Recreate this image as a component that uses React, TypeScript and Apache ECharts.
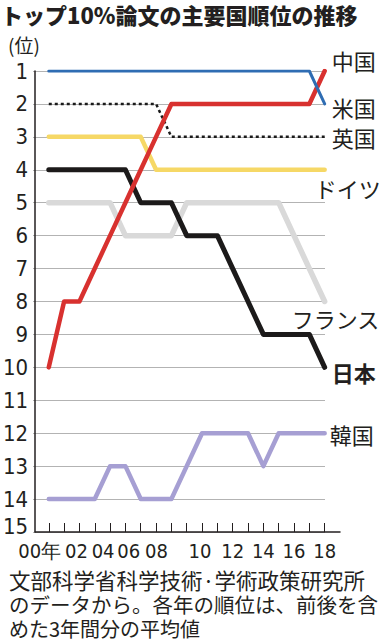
import React, { useEffect, useRef } from "react";
import * as echarts from "echarts";

const years = [2000, 2001, 2002, 2003, 2004, 2005, 2006, 2007, 2008, 2009, 2010, 2011, 2012, 2013, 2014, 2015, 2016, 2017, 2018];
const rankTicks = [1, 2, 3, 4, 5, 6, 7, 8, 9, 10, 11, 12, 13, 14, 15];
const labelYears = [2000, 2002, 2004, 2006, 2008, 2010, 2012, 2014, 2016, 2018];

const china = [10, 8, 8, 7, 6, 5, 4, 3, 2, 2, 2, 2, 2, 2, 2, 2, 2, 2, 1];
const usa = [1, 1, 1, 1, 1, 1, 1, 1, 1, 1, 1, 1, 1, 1, 1, 1, 1, 1, 2];
const uk = [2, 2, 2, 2, 2, 2, 2, 2, 3, 3, 3, 3, 3, 3, 3, 3, 3, 3, 3];
const germany = [3, 3, 3, 3, 3, 3, 3, 4, 4, 4, 4, 4, 4, 4, 4, 4, 4, 4, 4];
const japan = [4, 4, 4, 4, 4, 4, 5, 5, 5, 6, 6, 6, 7, 8, 9, 9, 9, 9, 10];
const france = [5, 5, 5, 5, 5, 6, 6, 6, 6, 5, 5, 5, 5, 5, 5, 5, 6, 7, 8];
const korea = [14, 14, 14, 14, 13, 13, 14, 14, 14, 13, 12, 12, 12, 12, 13, 12, 12, 12, 12];

const titleText = "トップ10%論文の主要国順位の推移";
const unitText = "(位)";
const noteLines = ["文部科学省科学技術·学術政策研究所", "のデータから。各年の順位は、前後を含", "めた3年間分の平均値"];

const CJK = '"Noto Sans CJK JP", sans-serif';
const NUM = '"Liberation Sans Narrow", "DejaVu Sans Condensed", "Liberation Sans", sans-serif';
const INK = "#231f20";

// horizontal nudges (px, negative = left) for the year labels, as laid out in the original
const labelShift: Record<number, number> = { 2000: -9, 2002: -3, 2004: -7, 2006: -12, 2008: -15, 2010: -2 };

export default function App() {
  const ref = useRef<HTMLDivElement>(null);
  useEffect(() => {
    if (!ref.current) return;
    const chart = echarts.init(ref.current, null, { renderer: "svg" });
    const pts = (arr: number[]) => years.map((y, i) => [y, arr[i]]);
    const mk = (
      name: string,
      arr: number[],
      color: string,
      width: number,
      off: [number, number],
      extra: any = {},
      labelExtra: any = {}
    ) => ({
      type: "line",
      name,
      xAxisIndex: 1,
      yAxisIndex: 1,
      data: pts(arr),
      symbol: "none",
      silent: true,
      lineStyle: { color, width, cap: "round", join: "round", ...extra },
      endLabel: {
        show: true,
        formatter: name,
        distance: 0,
        offset: off,
        align: "left",
        verticalAlign: "middle",
        color: INK,
        fontSize: 22,
        fontFamily: CJK,
        ...labelExtra,
      },
    });
    const xRich: any = {};
    labelYears.forEach((y) => {
      const s = labelShift[y] || 0;
      xRich["y" + y] = {
        fontSize: 20,
        fontFamily: NUM,
        color: INK,
        padding: [0, s < 0 ? -2 * s : 0, 0, s > 0 ? 2 * s : 0],
      };
    });
    const note = (i: number, size: number, y: number) => ({
      type: "text",
      x: 9,
      y,
      style: {
        text: noteLines[i],
        font: `${size}px ${CJK}`,
        lineHeight: size,
        fill: INK,
        verticalAlign: "middle",
      },
    });
    chart.setOption({
      animation: false,
      backgroundColor: "#fff",
      grid: [
        { left: 33, top: 71, width: 292, height: 461 },
        { left: 33, top: 71, width: 307, height: 461 },
      ],
      xAxis: [
        { gridIndex: 0, type: "value", min: 1999.113, max: 2018, show: false },
        {
          gridIndex: 1,
          type: "value",
          min: 1999.113,
          max: 2019,
          axisLine: { show: true, lineStyle: { color: INK, width: 1.5 } },
          axisTick: { show: true, inside: true, length: 9, customValues: years, lineStyle: { color: INK, width: 1 } },
          axisLabel: {
            show: true,
            customValues: labelYears,
            margin: 9,
            formatter: (v: number) => {
              const t = v === 2000 ? "00年" : String(v % 100).padStart(2, "0");
              return "{y" + v + "|" + t + "}";
            },
            rich: xRich,
            fontSize: 20,
            fontFamily: NUM,
            color: INK,
          },
          splitLine: { show: false },
        },
      ],
      yAxis: [
        {
          gridIndex: 0,
          type: "value",
          inverse: true,
          min: 1,
          max: 15,
          interval: 1,
          axisLine: { show: false },
          axisTick: { show: false },
          axisLabel: { show: false },
          splitLine: { show: true, lineStyle: { color: "#b3b3b3", width: 1 } },
        },
        {
          gridIndex: 1,
          type: "value",
          inverse: true,
          min: 1,
          max: 15,
          interval: 1,
          axisLine: { show: true, lineStyle: { color: INK, width: 1.5 } },
          axisTick: { show: false },
          splitLine: { show: false },
          axisLabel: {
            margin: 7,
            fontSize: 22,
            fontFamily: NUM,
            color: INK,
            formatter: (v: number) => (v === rankTicks[rankTicks.length - 1] ? "{s|" + v + "}" : "{n|" + v + "}"),
            rich: {
              n: { fontSize: 22, fontFamily: NUM, color: INK },
              s: { fontSize: 22, fontFamily: NUM, color: INK, padding: [0, 0, 12, 0] },
            },
          },
        },
      ],
      series: [
        mk("フランス", france, "#d9d9d9", 5.5, [-33, 16]),
        mk("韓国", korea, "#a69fd3", 4.5, [5, 1]),
        mk("ドイツ", germany, "#f6d866", 4.5, [-10, 18]),
        mk("英国", uk, "#1a1a1a", 2.5, [7, 0], { type: [3, 3], cap: "butt" }),
        mk("日本", japan, "#1c1a1a", 5, [7, 5], {}, { fontWeight: "bold" }),
        mk("中国", china, "#d8312f", 4.5, [7, -11]),
        mk("米国", usa, "#2f6db3", 3, [7, 3]),
      ],
      graphic: [
        {
          type: "text",
          x: 1,
          y: 14,
          style: { text: titleText, font: `900 22px ${CJK}`, lineHeight: 23, fill: INK, verticalAlign: "middle" },
        },
        {
          type: "text",
          x: 8,
          y: 44,
          style: { text: unitText, font: `19px ${CJK}`, lineHeight: 20, fill: INK, verticalAlign: "middle" },
        },
        note(0, 21.5, 579),
        note(1, 20.5, 604),
        note(2, 20, 628),
      ],
    });
    return () => chart.dispose();
  }, []);
  return (
    <div
      ref={ref}
      style={{ position: "fixed", left: 0, top: 0, width: 387, height: 640, background: "#fff" }}
    />
  );
}
